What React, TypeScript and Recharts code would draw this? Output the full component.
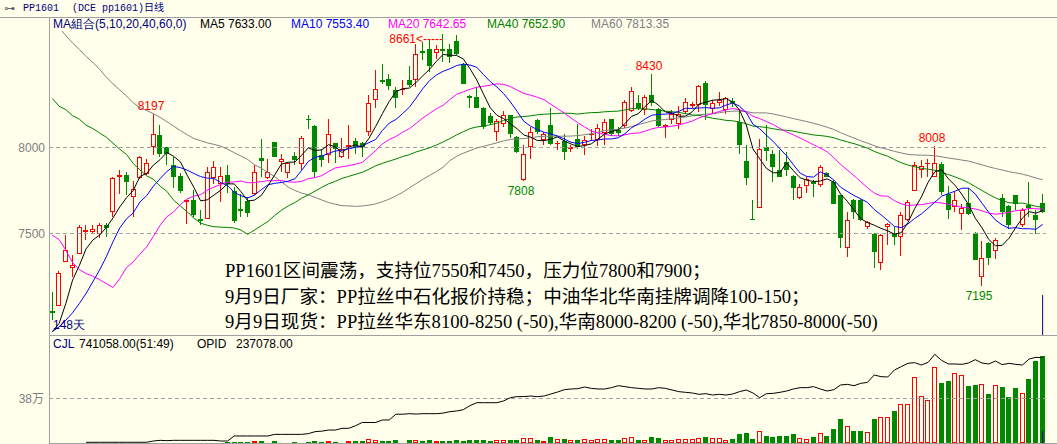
import React from "react";
import { ComposedChart, Bar, Line, XAxis, YAxis, ReferenceLine } from "recharts";

// daily bars, PP1601 (DCE), 148 days
const opens = [
  7050, 7081, 7337, 7302, 7380, 7511, 7508, 7496, 7552, 7626,
  7829, 7839, 7713, 7825, 7845, 8004, 8070, 8000, 7901, 7837,
  7684, 7694, 7583, 7583, 7820, 7787, 7843, 7746, 7641, 7690,
  7729, 7938, 7820, 8033, 7918, 7853, 7949, 7903, 8168, 8124,
  7959, 7959, 8029, 7946, 8000, 8037, 8029, 8091, 8275, 8395,
  8401, 8337, 8337, 8395, 8395, 8562, 8572, 8552, 8572, 8575,
  8618, 8488, 8298, 8291, 8232, 8182, 8091, 8139, 8188, 8062,
  7810, 8000, 8159, 8042, 8130, 8019, 8037, 7994, 8052, 8013,
  8071, 8046, 8085, 8165, 8104, 8124, 8213, 8256, 8217, 8304,
  8221, 8120, 8159, 8139, 8207, 8244, 8246, 8376, 8221, 8260,
  8217, 8271, 8149, 7920, 7587, 7651, 8000, 7965, 7872, 7917,
  7833, 7709, 7775, 7800, 7781, 7849, 7800, 7723, 7413, 7697,
  7694, 7535, 7500, 7331, 7535, 7496, 7477, 7581, 7748, 7868,
  7903, 7829, 7903, 7732, 7655, 7616, 7678, 7504, 7248, 7446,
  7399, 7709, 7659, 7723, 7552, 7665, 7606, 7678,
];
const highs = [
  7161, 7283, 7490, 7374, 7548, 7552, 7552, 7562, 7562, 7829,
  7872, 7858, 7806, 7949, 7932, 8197, 8128, 8004, 7946, 7849,
  7703, 7752, 7639, 7884, 7922, 7887, 7897, 7771, 7732, 7713,
  7897, 8048, 7936, 8033, 7965, 7917, 7971, 8066, 8188, 8130,
  7994, 8163, 8029, 8058, 8130, 8058, 8033, 8304, 8449, 8488,
  8430, 8353, 8395, 8473, 8604, 8614, 8624, 8595, 8661, 8604,
  8653, 8492, 8304, 8349, 8236, 8198, 8168, 8213, 8188, 8066,
  8013, 8120, 8163, 8091, 8227, 8039, 8081, 8013, 8139, 8066,
  8110, 8135, 8163, 8168, 8120, 8275, 8353, 8304, 8304, 8430,
  8227, 8139, 8217, 8240, 8285, 8265, 8362, 8387, 8275, 8323,
  8294, 8285, 8217, 8013, 7694, 8052, 8130, 7984, 7984, 7975,
  7838, 7790, 7829, 7810, 7897, 7858, 7810, 7723, 7626, 7703,
  7700, 7573, 7504, 7496, 7562, 7539, 7626, 7697, 7917, 7926,
  7936, 8008, 7917, 7775, 7742, 7674, 7767, 7510, 7457, 7451,
  7471, 7729, 7665, 7723, 7651, 7800, 7635, 7729,
];
const lows = [
  6996, 7081, 7337, 7248, 7380, 7461, 7495, 7471, 7480, 7597,
  7727, 7723, 7597, 7814, 7839, 7955, 7946, 7897, 7767, 7736,
  7558, 7597, 7548, 7583, 7790, 7684, 7736, 7562, 7597, 7597,
  7723, 7829, 7816, 7942, 7858, 7820, 7897, 7868, 8110, 7829,
  7884, 7907, 7911, 7940, 7936, 7965, 7942, 8066, 8232, 8372,
  8333, 8227, 8304, 8349, 8349, 8508, 8440, 8517, 8498, 8492,
  8537, 8368, 8227, 8227, 8105, 8130, 8039, 8120, 8058, 7969,
  7808, 7936, 8077, 8013, 8013, 7984, 7926, 7975, 7994, 7955,
  8039, 8008, 8013, 8066, 8066, 8116, 8207, 8217, 8188, 8240,
  8120, 8058, 8139, 8110, 8197, 8227, 8207, 8159, 8197, 8240,
  8197, 8236, 7961, 7781, 7577, 7651, 7922, 7800, 7829, 7833,
  7697, 7703, 7736, 7713, 7771, 7826, 7674, 7413, 7364, 7587,
  7573, 7529, 7302, 7287, 7432, 7432, 7368, 7573, 7748, 7820,
  7829, 7829, 7723, 7587, 7626, 7519, 7606, 7345, 7195, 7316,
  7354, 7597, 7529, 7639, 7539, 7597, 7496, 7620,
];
const closes = [
  7040, 7273, 7403, 7314, 7539, 7523, 7529, 7548, 7533, 7820,
  7839, 7800, 7756, 7944, 7907, 8081, 7961, 7965, 7829, 7748,
  7694, 7606, 7573, 7858, 7887, 7837, 7787, 7573, 7632, 7620,
  7858, 7920, 7858, 7946, 7936, 7911, 7926, 8058, 8159, 7858,
  7930, 8077, 7994, 7994, 8013, 8004, 8000, 8256, 8343, 8382,
  8356, 8285, 8343, 8362, 8546, 8550, 8473, 8572, 8562, 8527,
  8542, 8372, 8287, 8232, 8120, 8143, 8155, 8188, 8081, 7975,
  7965, 8091, 8091, 8077, 8019, 8027, 7975, 8004, 8004, 8046,
  8077, 8116, 8149, 8081, 8085, 8265, 8327, 8227, 8291, 8260,
  8124, 8130, 8197, 8197, 8265, 8252, 8356, 8246, 8256, 8279,
  8285, 8256, 8013, 7825, 7581, 7994, 7980, 7884, 7829, 7868,
  7767, 7771, 7814, 7790, 7884, 7829, 7674, 7471, 7581, 7626,
  7577, 7564, 7393, 7490, 7554, 7480, 7606, 7684, 7897, 7893,
  7911, 7911, 7742, 7639, 7697, 7651, 7612, 7345, 7360, 7360,
  7465, 7626, 7548, 7674, 7636, 7651, 7581, 7626,
];

// CJL (volume)
const volumes = [
  1000, 1200, 1500, 1000, 1800, 1500, 1200, 1500, 1400, 2500,
  2000, 2200, 1800, 2600, 2400, 3000, 2800, 2200, 2600, 2400,
  2200, 3000, 2500, 3000, 11000, 5000, 6000, 6000, 6000, 6000,
  17000, 17000, 10000, 20000, 9000, 9000, 9000, 9000, 9000, 17000,
  9000, 17000, 9000, 9000, 17000, 17000, 17000, 34000, 28000, 17000,
  17000, 28000, 9000, 25000, 25000, 17000, 28000, 17000, 17000, 17000,
  28000, 17000, 25000, 25000, 25000, 20000, 25000, 25000, 25000, 25000,
  40000, 39700, 25000, 17000, 51000, 34000, 34000, 23000, 23000, 34000,
  23000, 34000, 34000, 25000, 25000, 40000, 51000, 25000, 25000, 51000,
  40000, 23000, 23000, 34000, 34000, 34000, 40000, 51000, 40000, 40000,
  25000, 34000, 76000, 85000, 34000, 99000, 60000, 51000, 60000, 60000,
  76000, 40000, 31000, 51000, 82000, 60000, 119000, 204000, 145000, 102000,
  102000, 91000, 204000, 221000, 221000, 272000, 329000, 337000, 561000, 405000,
  363000, 652000, 516000, 527000, 601000, 578000, 485000, 493000, 507000, 417000,
  499000, 476000, 391000, 470000, 431000, 544000, 697000, 741058,
];

// OPID (open interest)
const openInterest = [
  null, null, null, null, null, 1900, 1900, 2000, 2000, 2000,
  2000, 2000, 2000, 2000, 2000, 5500, 7400, 6500, 7400, 7400,
  7400, 7400, 7400, 7400, 7400, 5500, 5500, 19500, 19500, 19500,
  19500, 19500, 19500, 24000, 24000, 24000, 24000, 24000, 26000, 31500,
  33000, 36000, 36000, 40800, 40800, 48000, 57000, 57000, 57000, 64000,
  64000, 80000, 80000, 81500, 80500, 81500, 81500, 81500, 83000, 87000,
  89000, 92600, 104000, 112000, 112000, 112000, 112000, 117000, 126000, 129000,
  129000, 130600, 128800, 130600, 136200, 141700, 148200, 150100, 151000, 155600,
  151900, 150100, 150100, 153800, 159300, 156600, 153800, 151900, 150100, 150100,
  153800, 151900, 147300, 142700, 140800, 139000, 135300, 137100, 133400, 135300,
  133400, 136200, 142700, 147300, 139000, 126000, 137100, 138000, 140800, 144500,
  150100, 153800, 153800, 156600, 150100, 144500, 148200, 161200, 163000, 159300,
  165800, 168600, 189000, 184400, 183400, 202900, 212100, 221400, 223300, 216800,
  224200, 246400, 229700, 219600, 219600, 218600, 222300, 231600, 222300, 219600,
  227900, 217700, 221400, 218600, 216800, 233500, 238100, 237078,
];

// moving-average values before a full window exists
const ma5Head = [6930, 6977, 7093, 7229];
const ma10Head = [6930, 6957, 6996, 7039, 7093, 7151, 7219, 7287, 7364];
const ma20Head = [
  7490, 7465, 7403, 7331, 7290, 7267, 7252, 7232, 7209, 7186,
  7238, 7302, 7335, 7380, 7422, 7484, 7548, 7597, 7626,
];
const ma40Head = [
  8285, 8240, 8220, 8185, 8165, 8130, 8110, 8085, 8060, 8025,
  7990, 7960, 7907, 7870, 7835, 7815, 7775, 7745, 7694, 7660,
  7626, 7590, 7560, 7548, 7539, 7537, 7535, 7532, 7520, 7495,
  7520, 7545, 7570, 7605, 7635, 7660, 7680, 7705, 7725,
];
const ma60Head = [
  8740, 8700, 8650, 8608, 8570, 8530, 8495, 8455, 8410, 8370,
  8335, 8300, 8260, 8232, 8215, 8197, 8175, 8150, 8125, 8098,
  8075, 8052, 8040, 8027, 8018, 8008, 7990, 7970, 7950, 7930,
  7900, 7880, 7855, 7830, 7800, 7770, 7750, 7735, 7725, 7710,
  7695, 7680, 7670, 7662, 7660, 7658, 7660, 7665, 7672, 7685,
  7700, 7718, 7740, 7765, 7790, 7815, 7838, 7860, 7885,
];

const highMarks = [
  { index: 15, text: "8197", arrow: false },
  { index: 58, text: "8661<-----", arrow: true },
  { index: 89, text: "8430", arrow: false },
  { index: 131, text: "8008", arrow: false },
];
const lowMarks = [
  { index: 70, text: "7808" },
  { index: 138, text: "7195" },
];

const priceTicks = [7500, 8000];
const volumeTicks = [380000];

const BG = "#FFFFEC";
const RED = "#FF0000";
const GREEN = "#008800";
const FRAME = "#A0A0A0";
const SANS = '"Liberation Sans", Arial, sans-serif';
const LAST = closes.length - 1;

function movingAverage(head: number[], n: number): number[] {
  return closes.map((_, i) => {
    if (i < n - 1) return head[i];
    let s = 0;
    for (let k = i - n + 1; k <= i; k++) s += closes[k];
    return s / n;
  });
}

const ma5 = movingAverage(ma5Head, 5);
const ma10 = movingAverage(ma10Head, 10);
const ma20 = movingAverage(ma20Head, 20);
const ma40 = movingAverage(ma40Head, 40);
const ma60 = movingAverage(ma60Head, 60);

const rows = closes.map((c, i) => ({
  i,
  o: opens[i],
  h: highs[i],
  l: lows[i],
  c,
  range: [lows[i], highs[i]],
  up: c >= opens[i],
  ma5: ma5[i],
  ma10: ma10[i],
  ma20: ma20[i],
  ma40: ma40[i],
  ma60: ma60[i],
  vol: volumes[i],
  oi: openInterest[i],
  hiMark: highMarks.find((m) => m.index === i),
  loMark: lowMarks.find((m) => m.index === i),
}));

function Candle(props: any) {
  const { x, y, width, height, payload } = props;
  if (x == null || !payload) return null;
  const top = Math.min(y, y + height);
  const span = Math.abs(height);
  const { o, h, l, c } = payload;
  const py = (v: number) => (h === l ? top : top + ((h - v) / (h - l)) * span);
  const fx = Math.floor(x + width / 2);
  const up = c >= o;
  const hy = Math.round(py(h));
  const ly = Math.round(py(l));
  const bTop = Math.round(py(Math.max(o, c)));
  const bBot = Math.round(py(Math.min(o, c)));
  const wx = fx + 0.5;
  const labelFont = { fontFamily: SANS, fontSize: 12 };
  return (
    <g>
      {up ? (
        <>
          <line x1={wx} x2={wx} y1={hy} y2={bTop} stroke={RED} />
          <line x1={wx} x2={wx} y1={bBot} y2={ly} stroke={RED} />
          {bBot - bTop >= 2 ? (
            <rect x={fx - 1.5} y={bTop + 0.5} width={4} height={bBot - bTop - 1} fill={BG} stroke={RED} />
          ) : (
            <line x1={fx - 2} x2={fx + 3} y1={bTop + 0.5} y2={bTop + 0.5} stroke={RED} />
          )}
        </>
      ) : (
        <>
          <line x1={wx} x2={wx} y1={hy} y2={ly} stroke={GREEN} />
          <rect x={fx - 2} y={bTop} width={5} height={Math.max(1, bBot - bTop)} fill={GREEN} />
        </>
      )}
      {payload.hiMark &&
        (payload.hiMark.arrow ? (
          <text x={fx + 1} y={hy + 9} textAnchor="end" fill={RED} style={labelFont}>
            {payload.hiMark.text}
          </text>
        ) : (
          <text x={fx - 2} y={hy - 4} textAnchor="middle" fill={RED} style={labelFont}>
            {payload.hiMark.text}
          </text>
        ))}
      {payload.loMark && (
        <text x={fx - 2} y={ly + 14} textAnchor="middle" fill={GREEN} style={labelFont}>
          {payload.loMark.text}
        </text>
      )}
    </g>
  );
}

function VolumeBar(props: any) {
  const { x, y, width, height, payload } = props;
  if (x == null || !payload) return null;
  const fx = Math.floor(x + width / 2);
  const top = Math.round(Math.min(y, y + height));
  const bot = Math.round(Math.max(y, y + height));
  if (bot - top < 1) return null;
  if (payload.up) {
    return <rect x={fx - 1.5} y={top + 0.5} width={4} height={Math.max(0, bot - top - 1)} fill="none" stroke={RED} />;
  }
  return <rect x={fx - 2} y={top} width={5} height={bot - top} fill={GREEN} />;
}

const abs = (left: number, top: number, extra: React.CSSProperties = {}): React.CSSProperties => ({
  position: "absolute",
  left,
  top,
  whiteSpace: "nowrap",
  ...extra,
});

export default function App() {
  const small: React.CSSProperties = { fontFamily: SANS, fontSize: 12, lineHeight: "14px" };
  const note: React.CSSProperties = {
    fontFamily: '"Liberation Serif", "Noto Sans CJK SC", serif',
    fontSize: 18.6,
    lineHeight: "20px",
    color: "#000",
  };
  return (
    <div style={{ position: "absolute", left: 0, top: 0, width: 1057, height: 444, background: BG, overflow: "hidden" }}>
      {/* price pane */}
      <div style={{ position: "absolute", left: 0, top: 0 }}>
        <ComposedChart width={1057} height={335} data={rows} margin={{ top: 31, right: 11, bottom: 0, left: 0 }}>
          <XAxis dataKey="i" hide />
          <YAxis
            yAxisId="p"
            domain={[6909.9, 8677.3]}
            allowDataOverflow
            ticks={priceTicks}
            width={49}
            axisLine={false}
            tickLine={false}
            tickSize={2}
            tickMargin={2}
            tick={{ fill: "#808080", fontSize: 12, fontFamily: SANS }}
          />
          {priceTicks.map((t) => (
            <ReferenceLine key={t} yAxisId="p" y={t} stroke={FRAME} strokeDasharray="4 3" />
          ))}
          <Bar yAxisId="p" dataKey="range" shape={<Candle />} isAnimationActive={false} />
          <Line yAxisId="p" dataKey="ma60" stroke="#808080" dot={false} strokeWidth={1} isAnimationActive={false} />
          <Line yAxisId="p" dataKey="ma40" stroke="#008000" dot={false} strokeWidth={1} isAnimationActive={false} />
          <Line yAxisId="p" dataKey="ma20" stroke="#FF00FF" dot={false} strokeWidth={1} isAnimationActive={false} />
          <Line yAxisId="p" dataKey="ma10" stroke="#0000FF" dot={false} strokeWidth={1} isAnimationActive={false} />
          <Line yAxisId="p" dataKey="ma5" stroke="#000000" dot={false} strokeWidth={1} isAnimationActive={false} />
          <ReferenceLine
            yAxisId="p"
            segment={[
              { x: LAST, y: 6909.9 },
              { x: LAST, y: 7142 },
            ]}
            stroke="#000080"
          />
        </ComposedChart>
      </div>

      {/* volume / open interest pane */}
      <div style={{ position: "absolute", left: 0, top: 336 }}>
        <ComposedChart width={1057} height={108} data={rows} margin={{ top: 1, right: 11, bottom: 1, left: 0 }}>
          <XAxis dataKey="i" hide />
          <YAxis
            yAxisId="v"
            orientation="left"
            domain={[0, 905169]}
            allowDataOverflow
            ticks={volumeTicks}
            tickFormatter={(v: number) => `${v / 10000}万`}
            width={49}
            axisLine={false}
            tickLine={false}
            tickSize={2}
            tickMargin={3}
            tick={{ fill: "#808080", fontSize: 12, fontFamily: '"Liberation Sans", "Noto Sans CJK SC", sans-serif' }}
          />
          <YAxis yAxisId="oi" orientation="right" domain={[0, 294604]} hide />
          {volumeTicks.map((t) => (
            <ReferenceLine key={t} yAxisId="v" y={t} stroke={FRAME} strokeDasharray="4 3" />
          ))}
          <Bar yAxisId="v" dataKey="vol" shape={<VolumeBar />} isAnimationActive={false} />
          <Line yAxisId="oi" dataKey="oi" stroke="#000000" dot={false} strokeWidth={1} isAnimationActive={false} />
          <ReferenceLine
            yAxisId="v"
            segment={[
              { x: LAST, y: 0 },
              { x: LAST, y: 100000 },
            ]}
            stroke="#000080"
          />
        </ComposedChart>
      </div>

      {/* frame */}
      <div style={abs(0, 17, { width: 1057, height: 1, background: FRAME })} />
      <div style={abs(49, 17, { width: 1, height: 427, background: FRAME })} />
      <div style={abs(49, 335, { width: 1008, height: 1, background: FRAME })} />
      <div style={abs(49, 443, { width: 1008, height: 1, background: FRAME })} />

      {/* header */}
      <div style={abs(4, 1, { fontFamily: '"DejaVu Sans", sans-serif', fontSize: 11, lineHeight: "15px", color: "#606060" })}>⊶</div>
      <div style={abs(23, 1, { fontFamily: '"Liberation Mono", monospace', fontSize: 10, lineHeight: "15px", color: "#000080" })}>PP1601</div>
      <div style={abs(72, 1, { fontFamily: '"Liberation Mono", "Noto Sans CJK SC", monospace', fontSize: 10, lineHeight: "15px", color: "#000080" })}>
        (DCE pp1601)日线
      </div>

      {/* MA legend */}
      <div style={abs(53, 17, { ...small, color: "#000080" })}>MA組合(5,10,20,40,60,0)</div>
      <div style={abs(200, 17, { ...small, color: "#000000" })}>MA5 7633.00</div>
      <div style={abs(291, 17, { ...small, color: "#0000FF" })}>MA10 7553.40</div>
      <div style={abs(388, 17, { ...small, color: "#FF00FF" })}>MA20 7642.65</div>
      <div style={abs(487, 17, { ...small, color: "#008000" })}>MA40 7652.90</div>
      <div style={abs(591, 17, { ...small, color: "#808080" })}>MA60 7813.35</div>

      {/* commentary */}
      <div style={abs(225, 261, note)}>PP1601区间震荡，支持位7550和7450，压力位7800和7900；</div>
      <div style={abs(225, 287, note)}>9月9日厂家：PP拉丝中石化报价持稳；中油华北华南挂牌调降100-150；</div>
      <div style={abs(225, 312, note)}>9月9日现货：PP拉丝华东8100-8250 (-50),华南8000-8200 (-50),华北7850-8000(-50)</div>

      <div style={abs(53, 318, { ...small, color: "#000080" })}>148天</div>

      {/* volume legend */}
      <div style={abs(53, 337, { ...small, color: "#000080" })}>CJL</div>
      <div style={abs(79, 337, { ...small, color: "#000000" })}>741058.00(51:49)</div>
      <div style={abs(197, 337, { ...small, color: "#000000" })}>OPID</div>
      <div style={abs(236, 337, { ...small, color: "#000000" })}>237078.00</div>
    </div>
  );
}
